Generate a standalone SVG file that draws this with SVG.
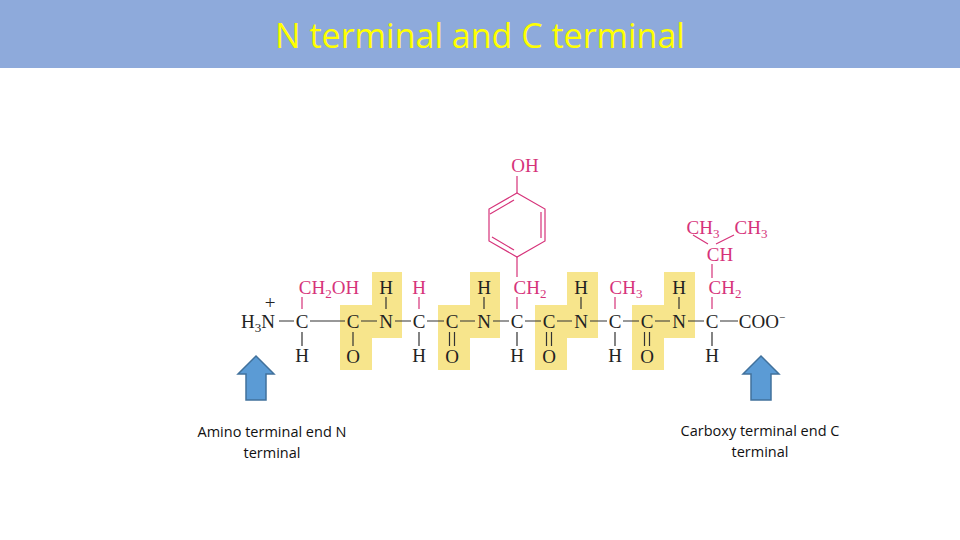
<svg xmlns="http://www.w3.org/2000/svg" width="960" height="540" viewBox="0 0 960 540">
<style>
.t{font-family:"Liberation Serif",serif;font-size:19px;fill:#222;text-anchor:middle}
.p{fill:#d6337a}
.b{stroke:#333;stroke-width:1.2;fill:none}
.pb{stroke:#d6337a;stroke-width:1.2;fill:none}
.y{fill:#f7e58c}
.lab{font-family:"Open Sans","Liberation Sans",sans-serif;font-size:14.5px;fill:#111;text-anchor:middle}
.ar{fill:#5b9bd5;stroke:#41719c;stroke-width:1.5}
</style>
<rect width="960" height="540" fill="#fff"/>
<g id="title"><rect width="960" height="68" fill="#8eaadb"/>
<text x="480" y="48" font-family="Open Sans,Liberation Sans,sans-serif" font-size="34" fill="#ffff00" text-anchor="middle">N terminal and C terminal</text></g>
<g id="highlights">
<path class="y" d="M340 305H372V272H402V338H372V370H340Z"/>
<path class="y" d="M438 305H470V272H500V338H470V370H438Z"/>
<path class="y" d="M535 305H567V272H598V338H567V370H535Z"/>
<path class="y" d="M632 305H664V272H695V338H664V370H632Z"/>
</g>
<g id="connectors">
<path class="b" d="M279 321H294M310 321H345M361 321H377M395 321H411M427 321H444M460 321H475M493 321H509M525 321H541M557 321H572M590 321H607M623 321H639M655 321H670M688 321H704M720 321H738"/>
<path class="b" d="M302 332V346M419 332V346M517 332V346M615 332V346M712 332V346M353 332V346M449.5 332V346M454.5 332V346M546.5 332V346M551.5 332V346M644.5 332V346M649.5 332V346M386 297V309M484 297V309M581 297V309M679 297V309"/>
<path class="pb" d="M302 297V309M419 297V309M517 297V309M615 297V309M712 297V309M517 257V277M517 193V176M712 278V264M708 244L693 235M716 244L734 235"/>
<polygon class="pb" points="517,193 545,209 545,241 517,257 489,241 489,209"/>
<path class="pb" d="M541 212V238M514 200L490 214M514 250L492 237"/>
</g>
<g id="atoms">
<text class="t" x="258" y="328">H<tspan font-size="13" dy="4">3</tspan><tspan dy="-4">N</tspan></text>
<text class="t" x="270" y="309" font-size="12">+</text>
<text class="t" x="302" y="328">C</text><text class="t" x="353" y="328">C</text><text class="t" x="386" y="328">N</text>
<text class="t" x="419" y="328">C</text><text class="t" x="452" y="328">C</text><text class="t" x="484" y="328">N</text>
<text class="t" x="517" y="328">C</text><text class="t" x="549" y="328">C</text><text class="t" x="581" y="328">N</text>
<text class="t" x="615" y="328">C</text><text class="t" x="647" y="328">C</text><text class="t" x="679" y="328">N</text>
<text class="t" x="712" y="328">C</text><text class="t" x="762" y="328">COO<tspan font-size="11" dy="-7">−</tspan></text>
<text class="t" x="302" y="362">H</text><text class="t" x="353" y="363">O</text><text class="t" x="419" y="362">H</text>
<text class="t" x="452" y="363">O</text><text class="t" x="517" y="362">H</text><text class="t" x="549" y="363">O</text>
<text class="t" x="615" y="362">H</text><text class="t" x="647" y="363">O</text><text class="t" x="712" y="362">H</text>
<text class="t" x="386" y="294">H</text><text class="t" x="484" y="294">H</text><text class="t" x="581" y="294">H</text><text class="t" x="679" y="294">H</text>
<text class="t p" x="329" y="294">CH<tspan font-size="13" dy="4">2</tspan><tspan dy="-4">OH</tspan></text>
<text class="t p" x="419" y="294">H</text>
<text class="t p" x="530" y="294">CH<tspan font-size="13" dy="4">2</tspan></text>
<text class="t p" x="626" y="294">CH<tspan font-size="13" dy="4">3</tspan></text>
<text class="t p" x="725" y="294">CH<tspan font-size="13" dy="4">2</tspan></text>
<text class="t p" x="720" y="261">CH</text>
<text class="t p" x="703" y="234">CH<tspan font-size="13" dy="4">3</tspan></text>
<text class="t p" x="751" y="234">CH<tspan font-size="13" dy="4">3</tspan></text>
<text class="t p" x="525" y="172">OH</text>
</g>
<g id="arrowN"><path class="ar" d="M256 356L274 374H266V400H246V374H238Z"/>
<text class="lab" x="272" y="437">Amino terminal end N</text><text class="lab" x="272" y="458">terminal</text></g>
<g id="arrowC"><path class="ar" d="M761 356L779 374H771V400H751V374H743Z"/>
<text class="lab" x="760" y="436">Carboxy terminal end C</text><text class="lab" x="760" y="457">terminal</text></g>
</svg>
